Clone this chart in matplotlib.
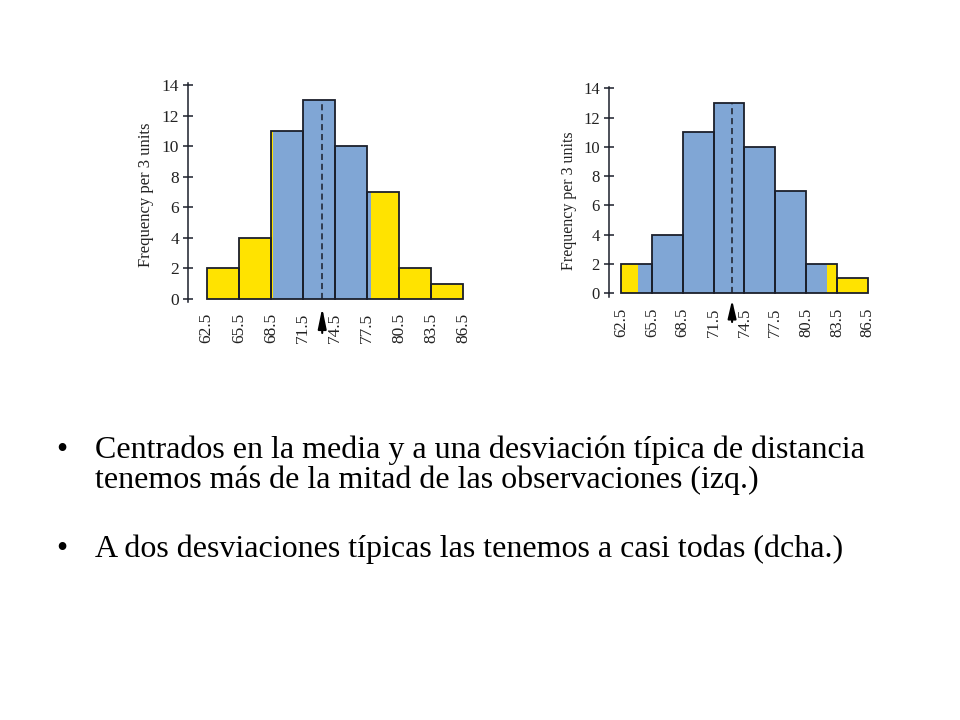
import matplotlib
matplotlib.use('Agg')
import matplotlib.pyplot as plt

# ---- data ----
bin_edges = [62.5, 65.5, 68.5, 71.5, 74.5, 77.5, 80.5, 83.5, 86.5]
frequencies = [2, 4, 11, 13, 10, 7, 2, 1]
x_tick_labels = ["62.5", "65.5", "68.5", "71.5", "74.5", "77.5", "80.5", "83.5", "86.5"]
y_ticks = [0, 2, 4, 6, 8, 10, 12, 14]
y_label = "Frequency per 3 units"
mean_value = 73.3
sd_value = 4.6
sd_multiples = [1, 2]   # left panel, right panel

bullet_lines = [
    ["Centrados en la media y a una desviación típica de distancia",
     "tenemos más de la mitad de las observaciones (izq.)"],
    ["A dos desviaciones típicas las tenemos a casi todas (dcha.)"],
]

YELLOW = '#FFE300'
BLUE = '#80A6D5'
EDGE = '#1b1f2b'
TXT = '#222222'

plt.rcParams['font.family'] = ['Liberation Serif', 'DejaVu Serif']

fig = plt.figure(figsize=(9.6, 7.2), dpi=100)

# axes geometry (figure fractions)
ax_left = fig.add_axes([0.1958, 0.5806, 0.2925, 0.3035])
ax_right = fig.add_axes([0.6344, 0.5875, 0.2749, 0.2919])


def draw_panel(ax, k, fs, xlim, ylim, ylab_pos, arrow_y, head_len):
    lows = bin_edges[:-1]
    highs = bin_edges[1:]
    widths = [h - l for l, h in zip(lows, highs)]
    ax.bar(lows, frequencies, width=widths, align='edge', color=YELLOW, linewidth=0, zorder=1)
    a, b = mean_value - k * sd_value, mean_value + k * sd_value
    for l, h, f in zip(lows, highs, frequencies):
        s, e = max(l, a), min(h, b)
        if e > s:
            ax.bar(s, f, width=e - s, align='edge', color=BLUE, linewidth=0, zorder=2)
    ax.bar(lows, frequencies, width=widths, align='edge', fill=False,
           edgecolor=EDGE, linewidth=1.3, zorder=3)
    # dashed mean line
    idx = max(i for i, l in enumerate(lows) if l <= mean_value)
    ax.plot([mean_value, mean_value], [0, frequencies[idx]], color=EDGE,
            lw=1.1, ls=(0, (4, 2.5)), zorder=4)
    # arrow under the axis at the mean
    ax.annotate('', xy=(mean_value, arrow_y[0]), xycoords=('data', 'axes fraction'),
                xytext=(mean_value, arrow_y[1]), textcoords=('data', 'axes fraction'),
                arrowprops=dict(arrowstyle='-|>,head_length=%.2f,head_width=0.14' % head_len,
                                color='black', lw=1.5,
                                mutation_scale=18, shrinkA=0, shrinkB=0),
                annotation_clip=False)
    ax.set_xlim(*xlim)
    ax.set_ylim(*ylim)
    for sp in ['top', 'right', 'bottom']:
        ax.spines[sp].set_visible(False)
    ax.spines['left'].set_color(EDGE)
    ax.spines['left'].set_linewidth(1.1)
    ax.set_xticks(bin_edges)
    ax.set_xticklabels(x_tick_labels, rotation=90, fontsize=fs, color=TXT)
    ax.tick_params(axis='x', length=0, pad=8)
    ax.set_yticks(y_ticks)
    ax.set_yticklabels([str(v) for v in y_ticks], fontsize=fs, color=TXT)
    ax.tick_params(axis='y', direction='inout', length=7, width=1.1, color=EDGE, pad=3)
    ax.text(ylab_pos[0], ylab_pos[1], y_label, transform=ax.transAxes, rotation=90,
            ha='center', va='center', fontsize=fs - 0.5, color=TXT)
    ax.set_facecolor('none')


draw_panel(ax_left, sd_multiples[0], 12.5, (60.75, 87.0), (-0.2, 14.1),
           (-0.148, 0.49), (-0.027, -0.142), 0.68)
draw_panel(ax_right, sd_multiples[1], 12, (61.33, 87.0), (-0.27, 14.1),
           (-0.152, 0.457), (-0.014, -0.119), 0.6)

# bullet text
baselines = [[458, 488], [557]]
for lines, ys in zip(bullet_lines, baselines):
    fig.text(62 / 960, 1 - ys[0] / 720, '•', ha='center', va='baseline', fontsize=23, color='black')
    for line, y in zip(lines, ys):
        fig.text(95 / 960, 1 - y / 720, line, ha='left', va='baseline', fontsize=23, color='black')

fig.savefig('out.png', dpi=100)
